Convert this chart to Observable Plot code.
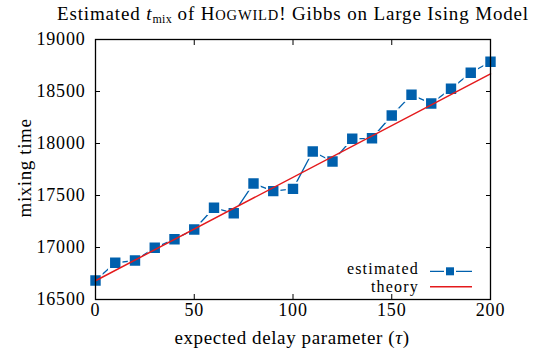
<!DOCTYPE html>
<html><head><meta charset="utf-8">
<script src="https://cdn.jsdelivr.net/npm/d3@7"></script>
<script src="https://cdn.jsdelivr.net/npm/@observablehq/plot@0.6"></script>
<style>
body{margin:0;background:#fff;}
#wrap{position:relative;width:538px;height:351px;font-family:"Liberation Serif","Times New Roman",serif;color:#000;}
#title{position:absolute;top:3px;left:48px;width:490px;text-align:center;font-size:19px;letter-spacing:0.85px;line-height:22px;white-space:nowrap;}
#title sub{font-size:12px;vertical-align:-3px;line-height:0;letter-spacing:0.3px;}
#chart{position:absolute;top:0;left:0;}
</style></head><body>
<div id="wrap"><div id="chart"></div><div id="title">Estimated <i>t</i><sub>mix</sub> of H<span style="font-size:14.5px">OGWILD</span>! Gibbs on Large Ising Model</div></div>
<script>
const delays = [0,10,20,30,40,50,60,70,80,90,100,110,120,130,140,150,160,170,180,190,200];
const estimated = [16683,16853,16875,16997,17080,17173,17382,17330,17615,17542,17564,17923,17827,18045,18050,18269,18468,18385,18526,18680,18786];
const theoryX = [0,200];
const theoryY = [16680,18670];
const xTicks = [0,50,100,150,200];
const yTicks = [16500,17000,17500,18000,18500,19000];
const seriesNames = ["estimated","theory"];

const est = delays.map((d,i)=>({x:d,y:estimated[i]}));
const theo = theoryX.map((d,i)=>({x:d,y:theoryY[i]}));
const blue = "#0060ad", red = "#e41a1c";
const FF = '"Liberation Serif","Times New Roman",serif';

const chart = Plot.plot({
  width:538, height:351,
  marginLeft:95, marginRight:48, marginTop:39, marginBottom:52,
  style:{fontFamily:FF, fontSize:"18px", color:"#000", background:"#fff"},
  x:{domain:[0,200]},
  y:{domain:[16500,19000]},
  marks:[
    Plot.line(est,{x:"x",y:"y",stroke:blue,strokeWidth:1.3}),
    Plot.dot(est,{x:"x",y:"y",symbol:"square",r:7,fill:blue,stroke:"#fff",strokeWidth:2}),
    Plot.line(theo,{x:"x",y:"y",stroke:red,strokeWidth:1.5}),
    Plot.axisX(xTicks,{anchor:"bottom",tickSize:-5,tickFormat:()=>"",label:null}),
    Plot.axisX(xTicks,{anchor:"top",tickSize:-5,tickFormat:()=>"",label:null}),
    Plot.axisY(yTicks,{anchor:"left",tickSize:-5,tickFormat:()=>"",label:null}),
    Plot.axisY(yTicks,{anchor:"right",tickSize:-5,tickFormat:()=>"",label:null}),
    Plot.axisX(xTicks,{anchor:"bottom",tickSize:0,tickPadding:4,label:null,fontSize:18,fontFamily:FF,tickFormat:d=>String(d)}),
    Plot.axisY(yTicks,{anchor:"left",tickSize:0,tickPadding:10,label:null,fontSize:18,fontFamily:FF,tickFormat:d=>String(d)}),
    Plot.frame({stroke:"#000",strokeWidth:1.3})
  ]
});
document.getElementById("chart").appendChild(chart);
d3.select(chart).selectAll("g[aria-label$='tick label'] text").style("letter-spacing","0.8px");

const svg = d3.select(chart);
// axis labels
svg.append("text").attr("x",292).attr("y",344).attr("text-anchor","middle")
  .attr("font-size",19).attr("font-family",FF).attr("letter-spacing","0.6px").attr("fill","#000")
  .html('expected delay parameter (<tspan font-style="italic">τ</tspan>)');
svg.append("text").attr("transform","translate(31,168) rotate(-90)").attr("text-anchor","middle")
  .attr("font-size",19).attr("font-family",FF).attr("letter-spacing","0.6px").attr("fill","#000").text("mixing time");
// legend
const lg = svg.append("g");
lg.append("text").attr("x",419).attr("y",274).attr("text-anchor","end").attr("font-size",16).attr("font-family",FF).attr("letter-spacing","1.2px").attr("fill","#000").text(seriesNames[0]);
lg.append("text").attr("x",419).attr("y",292).attr("text-anchor","end").attr("font-size",16).attr("font-family",FF).attr("letter-spacing","1.2px").attr("fill","#000").text(seriesNames[1]);
lg.append("line").attr("x1",430).attr("x2",472).attr("y1",271.3).attr("y2",271.3).attr("stroke",blue).attr("stroke-width",1.3);
lg.append("rect").attr("x",445).attr("y",266.3).attr("width",10).attr("height",10).attr("fill",blue).attr("stroke","#fff").attr("stroke-width",2);
lg.append("line").attr("x1",430).attr("x2",472).attr("y1",286.7).attr("y2",286.7).attr("stroke",red).attr("stroke-width",1.5);
</script>
</body></html>
